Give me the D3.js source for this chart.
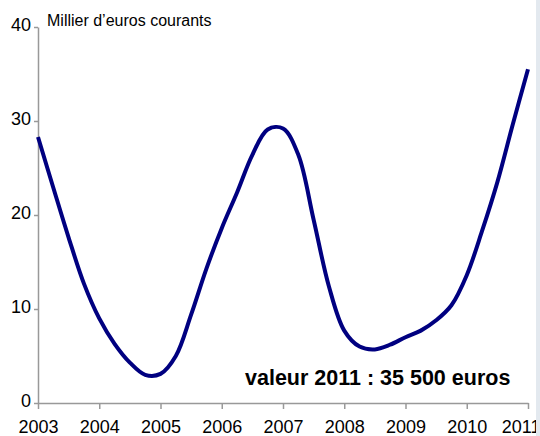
<!DOCTYPE html>
<meta charset="utf-8">
<style>
body { margin: 0; background: #fff; }
svg { display: block; font-family: "Liberation Sans", Arial, sans-serif; }
.axis path, .axis line { stroke: #999; stroke-width: 1.5px; }
.axis text { fill: #000; font-size: 18px; }
.line { fill: none; stroke: #000080; stroke-width: 4px; stroke-linejoin: round; }
</style>
<svg width="540" height="436"></svg>
<script src="https://cdn.jsdelivr.net/npm/d3@7/dist/d3.min.js"></script>
<script>
// quarterly readings, 2003 Q1 .. 2011 Q1 (milliers d'euros)
var periods = [2003, 2003.25, 2003.5, 2003.75, 2004, 2004.25, 2004.5, 2004.75,
               2005, 2005.25, 2005.5, 2005.75, 2006, 2006.25, 2006.5, 2006.75,
               2007, 2007.25, 2007.5, 2007.75, 2008, 2008.25, 2008.5, 2008.75,
               2009, 2009.25, 2009.5, 2009.75, 2010, 2010.25, 2010.5, 2010.75, 2011];
var valeurs = [28.3, 22.9, 17.6, 12.7, 9.0, 6.3, 4.3, 3.0,
               3.1, 5.0, 9.4, 14.3, 18.6, 22.4, 26.4, 29.1,
               29.2, 26.4, 19.5, 12.4, 7.7, 6.0, 5.7, 6.2,
               7.0, 7.7, 8.8, 10.4, 13.6, 18.3, 23.5, 29.6, 35.5];
var annees = [2003, 2004, 2005, 2006, 2007, 2008, 2009, 2010, 2011];
var yTicks = [0, 10, 20, 30, 40];

var svg = d3.select("svg"),
    margin = {top: 27, right: 12, bottom: 33, left: 38},
    width = +svg.attr("width") - margin.left - margin.right,
    height = +svg.attr("height") - margin.top - margin.bottom,
    g = svg.append("g").attr("transform", "translate(" + margin.left + "," + margin.top + ")");

var x = d3.scaleLinear().domain([2003, 2011]).range([0, 490]),
    y = d3.scaleLinear().domain([0, 40]).range([height, 0]);

var data = periods.map(function(p, i) { return {t: p, v: valeurs[i]}; });

svg.append("rect")
    .attr("x", 536).attr("y", 0).attr("width", 4).attr("height", 436)
    .attr("fill", "#e3e9ef");

g.append("g")
    .attr("class", "axis axis--y")
    .call(d3.axisLeft(y).tickValues(yTicks).tickSize(4).tickSizeOuter(0).tickPadding(3))
    .selectAll("text").attr("dy", "0.2em");

var xAxis = g.append("g")
    .attr("class", "axis axis--x")
    .attr("transform", "translate(0," + height + ")")
    .call(d3.axisBottom(x).tickValues(annees).tickFormat(d3.format("d")).tickSize(6).tickSizeOuter(0).tickPadding(11));

// last label pushed inside the frame, as in the original
xAxis.selectAll(".tick text")
    .filter(function(d) { return d === 2011; })
    .attr("text-anchor", "end")
    .attr("x", 12);

var line = d3.line()
    .curve(d3.curveCatmullRom.alpha(0.5))
    .x(function(d) { return x(d.t); })
    .y(function(d) { return y(d.v); });

g.append("path")
    .datum(data)
    .attr("class", "line")
    .attr("d", line);

svg.append("text")
    .attr("x", 47).attr("y", 26)
    .style("font-size", "16px")
    .text("Millier d\u2019euros courants");

svg.append("text")
    .attr("x", 245).attr("y", 385)
    .style("font-size", "21.5px")
    .style("font-weight", "bold")
    .text("valeur 2011 : 35 500 euros");
</script>
